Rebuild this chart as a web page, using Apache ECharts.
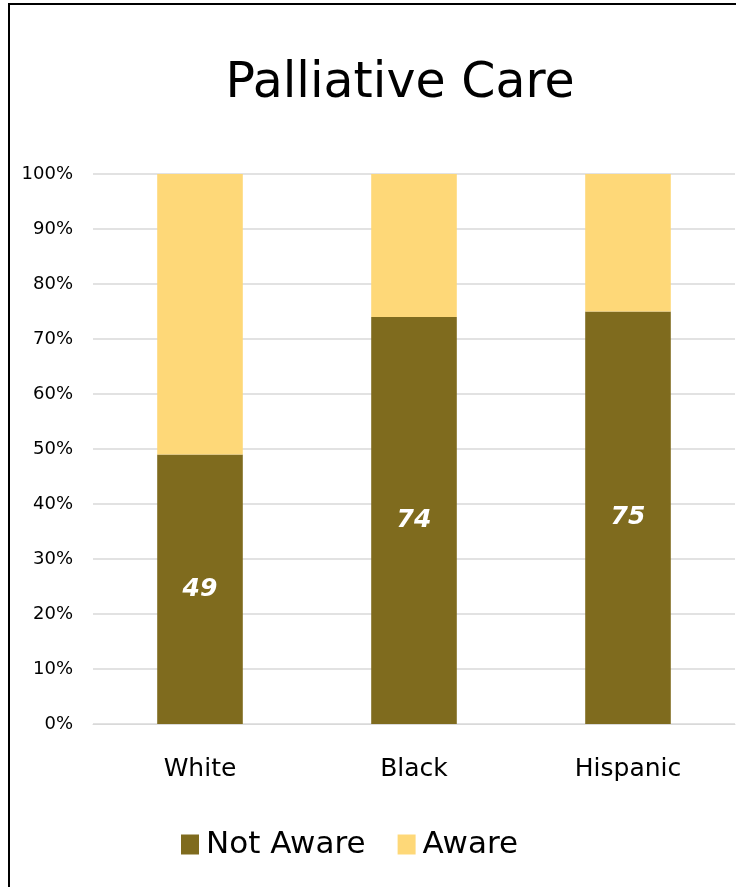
<!DOCTYPE html>
<html>
<head>
<meta charset="utf-8">
<script src="https://cdn.jsdelivr.net/npm/echarts@6/dist/echarts.min.js"></script>
<style>
html,body{margin:0;padding:0;background:#fff;}
#chart{width:736px;height:887px;}
</style>
</head>
<body>
<div id="chart"></div>
<script>
const categories = ['White', 'Black', 'Hispanic'];
const notAware = [49, 74, 75];
const aware = [51, 26, 25];
const seriesNames = ['Not Aware', 'Aware'];
const yTicks = [0, 10, 20, 30, 40, 50, 60, 70, 80, 90, 100];

const FONT = '"DejaVu Sans", sans-serif';
const chart = echarts.init(document.getElementById('chart'), null, {renderer: 'canvas'});
chart.setOption({
  backgroundColor: '#fff',
  animation: false,
  title: {
    text: 'Palliative Care',
    left: 395, top: 55, textAlign: 'center',
    textStyle: {fontFamily: FONT, fontSize: 49, fontWeight: 'normal', color: '#000'}
  },
  legend: {
    data: seriesNames,
    left: 176, top: 824,
    itemWidth: 18, itemHeight: 20, itemGap: 32,
    textStyle: {fontFamily: FONT, fontSize: 31, color: '#000', padding: [0, 0, 0, 2]},
    icon: 'rect'
  },
  grid: {left: 93, right: 1, top: 174, bottom: 163, containLabel: false},
  xAxis: {
    type: 'category',
    data: categories,
    axisLine: {show: true, lineStyle: {color: '#D9D9D9', width: 1}},
    axisTick: {show: false},
    axisLabel: {fontFamily: FONT, fontSize: 25, color: '#000', margin: 33}
  },
  yAxis: {
    type: 'value', min: 0, max: 100, interval: 10,
    axisLine: {show: false}, axisTick: {show: false},
    splitLine: {lineStyle: {color: '#D9D9D9', width: 1.5}},
    axisLabel: {fontFamily: FONT, fontSize: 18, color: '#000', margin: 20,
      formatter: v => yTicks.includes(v) ? v + '%' : ''}
  },
  series: [
    {
      name: seriesNames[0], type: 'bar', stack: 'a', data: notAware,
      barWidth: '40%',
      itemStyle: {color: '#7F6B1E'},
      label: {show: true, position: 'inside', color: '#fff', fontFamily: FONT,
        fontSize: 25, fontWeight: 'bold', fontStyle: 'italic'}
    },
    {
      name: seriesNames[1], type: 'bar', stack: 'a', data: aware,
      barWidth: '40%',
      itemStyle: {color: '#FED878'}
    }
  ],
  graphic: [
    {type: 'line', shape: {x1: 9, y1: 4, x2: 736, y2: 4}, style: {stroke: '#000', lineWidth: 2}},
    {type: 'line', shape: {x1: 9, y1: 3, x2: 9, y2: 887}, style: {stroke: '#000', lineWidth: 2}}
  ]
});
</script>
</body>
</html>
